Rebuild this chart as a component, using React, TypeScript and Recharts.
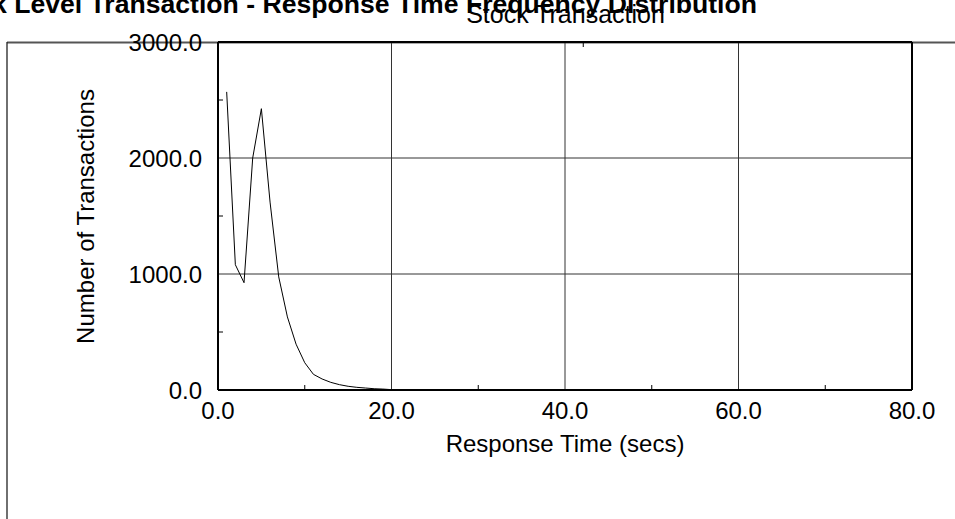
import React from 'react';
import { LineChart, Line, XAxis, YAxis, ReferenceLine } from 'recharts';

// response time bucket (secs) and transaction counts
const responseTimes = [1, 2, 3, 4, 5, 6, 7, 8, 9, 10, 11, 12, 13, 14, 15, 16, 17, 18, 19, 20];
const transactionCounts = [2570, 1080, 925, 2000, 2425, 1620, 975, 630, 395, 235, 135, 95, 66, 46, 32, 23, 17, 11, 8, 3];

const xTicks = [0, 10, 20, 30, 40, 50, 60, 70, 80];
const xMinorTicks = [10, 30, 50, 70];
const xGridLines = [20, 40, 60];
const yTicks = [0, 500, 1000, 1500, 2000, 2500, 3000];
const yMinorTicks = [500, 1500, 2500];
const yGridLines = [1000, 2000];

const chartTitle = 'Stock Level Transaction - Response Time Frequency Distribution';
const chartSubtitle = 'Stock Transaction';
const xTitle = 'Response Time (secs)';
const yTitle = 'Number of Transactions';

const data = responseTimes.map((t, i) => ({ time: t, count: transactionCounts[i] }));

const FONT = '"Liberation Sans", Arial, sans-serif';
const W = 955;
const H = 519;

const XTick = (props: any) => {
  const { x, y, payload } = props;
  const v = payload.value;
  if (xMinorTicks.includes(v)) {
    return <line x1={x} y1={y} x2={x} y2={y - 5} stroke="#000" strokeWidth={1} />;
  }
  return (
    <text x={x} y={y + 29} textAnchor="middle" fontSize={24} fontFamily={FONT} fill="#000">
      {v.toFixed(1)}
    </text>
  );
};

const YTick = (props: any) => {
  const { x, y, payload } = props;
  const v = payload.value;
  if (yMinorTicks.includes(v)) {
    return <line x1={x} y1={y} x2={x + 5} y2={y} stroke="#000" strokeWidth={1} />;
  }
  return (
    <text x={x - 16} y={y} dy="0.36em" textAnchor="end" fontSize={24} fontFamily={FONT} fill="#000">
      {v.toFixed(1)}
    </text>
  );
};

const App: React.FC = () => {
  return (
    <div style={{ position: 'absolute', left: 0, top: 0, width: W, height: H, background: '#fff', overflow: 'hidden' }}>
      <svg width={W} height={H} style={{ position: 'absolute', left: 0, top: 0 }}>
        <line x1={7} y1={42.5} x2={W} y2={42.5} stroke="#555" strokeWidth={2} />
        <line x1={7} y1={42} x2={7} y2={H} stroke="#222" strokeWidth={1.3} />
      </svg>
      <div style={{ position: 'absolute', left: 0, top: 0 }}>
        <LineChart width={W} height={H} data={data} margin={{ top: 42, right: 43, bottom: 0, left: 0 }}>
          <XAxis
            dataKey="time"
            type="number"
            domain={[0, 80]}
            ticks={xTicks}
            interval={0}
            height={129}
            tickSize={0}
            tickMargin={0}
            tickLine={false}
            axisLine={{ stroke: '#000', strokeWidth: 2 }}
            tick={<XTick />}
          />
          <XAxis
            xAxisId="top"
            orientation="top"
            type="number"
            domain={[0, 80]}
            ticks={xMinorTicks}
            mirror
            tickSize={5}
            tickFormatter={() => ''}
            tickLine={{ stroke: '#000' }}
            axisLine={{ stroke: '#000', strokeWidth: 2 }}
          />
          <YAxis
            type="number"
            domain={[0, 3000]}
            ticks={yTicks}
            interval={0}
            width={218}
            tickSize={0}
            tickMargin={0}
            tickLine={false}
            axisLine={{ stroke: '#000', strokeWidth: 2 }}
            tick={<YTick />}
          />
          <YAxis
            yAxisId="right"
            orientation="right"
            type="number"
            domain={[0, 3000]}
            ticks={yMinorTicks}
            mirror
            tickSize={5}
            tickFormatter={() => ''}
            tickLine={{ stroke: '#000' }}
            axisLine={{ stroke: '#000', strokeWidth: 2 }}
          />
          {xGridLines.map((v) => (
            <ReferenceLine key={'x' + v} x={v} stroke="#333" strokeWidth={1} />
          ))}
          {yGridLines.map((v) => (
            <ReferenceLine key={'y' + v} y={v} stroke="#333" strokeWidth={1} />
          ))}
          <Line
            type="linear"
            dataKey="count"
            stroke="#000"
            strokeWidth={1}
            dot={false}
            isAnimationActive={false}
          />
        </LineChart>
      </div>
      <svg width={W} height={H} style={{ position: 'absolute', left: 0, top: 0, pointerEvents: 'none' }}>
        <text x={757} y={13} textAnchor="end" fontSize={26.6} fontWeight="bold" fontFamily={FONT} fill="#000">
          {chartTitle}
        </text>
        <text x={565.5} y={22.5} textAnchor="middle" fontSize={25} fontFamily={FONT} fill="#000">
          {chartSubtitle}
        </text>
        <text x={565} y={452} textAnchor="middle" fontSize={24} fontFamily={FONT} fill="#000">
          {xTitle}
        </text>
        <text
          x={94}
          y={216.5}
          textAnchor="middle"
          fontSize={24}
          fontFamily={FONT}
          fill="#000"
          transform="rotate(-90 94 216.5)"
        >
          {yTitle}
        </text>
      </svg>
    </div>
  );
};

export default App;
